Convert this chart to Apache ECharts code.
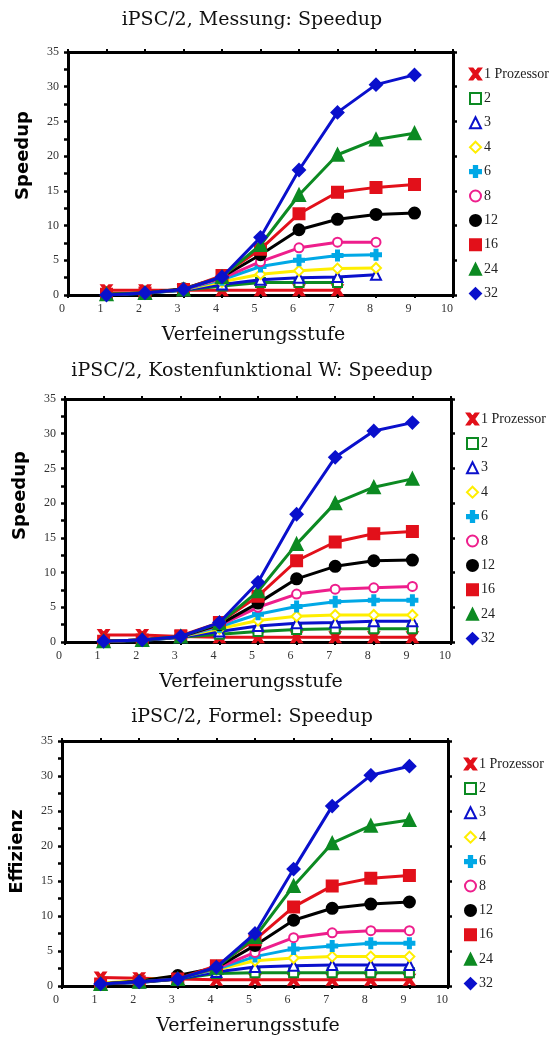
<!DOCTYPE html>
<html>
<head>
<meta charset="utf-8">
<script src="https://cdn.jsdelivr.net/npm/echarts@6/dist/echarts.min.js"></script>
<style>
  html, body { margin: 0; padding: 0; background: #fff; }
  #chart { width: 555px; height: 1041px; }
</style>
</head>
<body>
<div id="chart"></div>
<script>
// x positions (Verfeinerungsstufe)
const xs = [1, 2, 3, 4, 5, 6, 7, 8, 9];
const names = ["1 Prozessor", "2", "3", "4", "6", "8", "12", "16", "24", "32"];

// iPSC/2, Messung
const messung = [
  [0.7, 0.7, 0.7, 0.7, 0.7, 0.7, 0.7],
  [0.1, 0.3, 0.7, 1.3, 1.8, 1.8, 1.8],
  [0.0, 0.3, 0.7, 1.5, 2.2, 2.5, 2.6, 2.9],
  [0.1, 0.3, 0.8, 1.9, 3.0, 3.5, 3.8, 3.9],
  [0.1, 0.2, 0.8, 2.2, 4.1, 5.0, 5.7, 5.8],
  [0.1, 0.3, 0.8, 2.4, 4.8, 6.8, 7.6, 7.6],
  [0.1, 0.3, 0.9, 2.6, 5.8, 9.4, 10.9, 11.6, 11.8],
  [0.1, 0.3, 0.8, 2.8, 6.6, 11.7, 14.8, 15.5, 15.9],
  [0.1, 0.3, 0.8, 2.6, 7.2, 14.4, 20.2, 22.4, 23.3],
  [0.0, 0.3, 0.8, 2.6, 8.3, 18.0, 26.3, 30.3, 31.7],
];

// iPSC/2, Kostenfunktional W
const kostenW = [
  [1.0, 1.0, 0.8, 0.7, 0.7, 0.7, 0.7, 0.7, 0.7],
  [0.1, 0.2, 0.7, 1.1, 1.5, 1.8, 1.9, 1.9, 1.9],
  [0.1, 0.2, 0.7, 1.5, 2.3, 2.7, 2.8, 3.0, 3.0],
  [0.1, 0.3, 0.8, 1.9, 3.1, 3.7, 3.9, 3.9, 3.9],
  [0.1, 0.3, 0.8, 2.2, 4.0, 5.1, 5.8, 6.0, 6.0],
  [0.1, 0.3, 0.8, 2.4, 5.0, 6.9, 7.6, 7.8, 8.0],
  [0.1, 0.3, 0.8, 2.5, 5.6, 9.1, 10.9, 11.7, 11.8],
  [0.1, 0.3, 0.9, 2.8, 6.6, 11.7, 14.4, 15.6, 15.9],
  [0.1, 0.3, 0.8, 2.7, 7.3, 14.1, 20.0, 22.3, 23.5],
  [0.1, 0.3, 0.8, 2.8, 8.6, 18.4, 26.6, 30.4, 31.6],
];

// iPSC/2, Formel
const formel = [
  [1.2, 1.1, 1.0, 0.9, 0.9, 0.9, 0.9, 0.9, 0.9],
  [0.3, 0.5, 1.0, 1.8, 1.9, 1.9, 1.9, 1.9, 1.9],
  [0.3, 0.5, 1.0, 2.0, 2.7, 2.9, 3.0, 3.0, 3.0],
  [0.4, 0.8, 1.4, 2.3, 3.6, 4.0, 4.2, 4.2, 4.2],
  [0.3, 0.6, 1.1, 2.4, 4.2, 5.3, 5.7, 6.1, 6.1],
  [0.3, 0.6, 1.1, 2.5, 4.8, 6.9, 7.6, 7.9, 7.9],
  [0.3, 0.7, 1.5, 2.6, 5.8, 9.4, 11.1, 11.7, 12.0],
  [0.3, 0.6, 1.0, 2.9, 6.6, 11.3, 14.3, 15.4, 15.8],
  [0.3, 0.6, 1.0, 2.6, 7.0, 14.3, 20.4, 22.9, 23.7],
  [0.3, 0.6, 1.0, 2.7, 7.5, 16.7, 25.7, 30.1, 31.4],
];

const titles = ["iPSC/2, Messung: Speedup", "iPSC/2, Kostenfunktional W: Speedup", "iPSC/2, Formel: Speedup"];
const yNames = ["Speedup", "Speedup", "Effizienz"];
const xName = "Verfeinerungsstufe";

const X_PATH = "path://M0,0 L2.5,0 L5,3 L7.5,0 L10,0 L6.5,5 L10,10 L7.5,10 L5,7 L2.5,10 L0,10 L3.5,5 Z";
const PLUS_PATH = "path://M3.5,0 H6.5 V3.5 H10 V6.5 H6.5 V10 H3.5 V6.5 H0 V3.5 H3.5 Z";

const RED = "#e2101a";
const GREEN = "#0c8a22";
const BLUE = "#0a10cc";
const styles = [
  { color: RED, symbol: X_PATH, size: 10 },
  { color: GREEN, symbol: "emptyRect", size: 9 },
  { color: BLUE, symbol: "emptyTriangle", size: 10 },
  { color: "#ffee00", symbol: "emptyDiamond", size: 10 },
  { color: "#00a8e6", symbol: PLUS_PATH, size: 10 },
  { color: "#ee1e8c", symbol: "emptyCircle", size: 9 },
  { color: "#000000", symbol: "circle", size: 11 },
  { color: RED, symbol: "rect", size: 11 },
  { color: GREEN, symbol: "triangle", size: 12 },
  { color: BLUE, symbol: "diamond", size: 12 },
];

const panels = [messung, kostenW, formel];
const grids = [
  { left: 68, top: 52, width: 385, height: 243 },
  { left: 65, top: 399, width: 386, height: 243 },
  { left: 62, top: 741, width: 386, height: 245 },
];
const titleTops = [11, 362, 708];
const yNamePad = [36, 50, 24];
const legendPos = [
  { left: 469, top: 67 },
  { left: 466, top: 412 },
  { left: 464, top: 757 },
];

const serif = "DejaVu Serif";
const tickFont = { fontFamily: "Liberation Serif", fontSize: 12, color: "#333" };
const axisLineStyle = { color: "#000", width: 3 };

const option = {
  backgroundColor: "#fff",
  animation: false,
  title: titles.map((t, i) => ({
    text: t,
    left: 252,
    top: titleTops[i],
    textAlign: "center",
    padding: 0,
    textStyle: { fontFamily: serif, fontSize: 19, fontWeight: "normal", color: "#111" },
  })),
  legend: legendPos.map((p) => ({
    orient: "vertical",
    left: p.left,
    top: p.top,
    itemWidth: 11,
    itemHeight: 11,
    itemGap: 10.4,
    padding: 0,
    selectedMode: false,
    textStyle: { fontFamily: "Liberation Serif", fontSize: 14, color: "#222", padding: [0, 0, 0, -2] },
    data: names.map((n, k) => ({ name: n, icon: styles[k].symbol })),
  })),
  grid: grids,
  xAxis: [],
  yAxis: [],
  series: [],
};

grids.forEach((g, i) => {
  // bottom axis with labels
  option.xAxis.push({
    type: "value",
    gridIndex: i,
    min: 0,
    max: 10,
    interval: 1,
    name: xName,
    nameLocation: "middle",
    nameGap: 31,
    nameTextStyle: { fontFamily: serif, fontSize: 19, color: "#111", padding: [0, 14, 0, 0] },
    axisLine: { onZero: false, lineStyle: axisLineStyle },
    axisTick: { show: true, length: 3, lineStyle: { width: 2, color: "#000" } },
    axisLabel: { ...tickFont, margin: 8, padding: [0, 12, 0, 0] },
    splitLine: { show: false },
  });
  // top frame
  option.xAxis.push({
    type: "value",
    gridIndex: i,
    position: "top",
    min: 0,
    max: 10,
    interval: 1,
    axisLine: { onZero: false, lineStyle: axisLineStyle },
    axisTick: { show: true, length: 3, lineStyle: { width: 2, color: "#000" } },
    axisLabel: { show: false },
    splitLine: { show: false },
  });
  // left axis with labels
  option.yAxis.push({
    type: "value",
    gridIndex: i,
    min: 0,
    max: 35,
    interval: 5,
    name: yNames[i],
    nameLocation: "middle",
    nameRotate: 90,
    nameGap: 36,
    nameTextStyle: {
      fontFamily: "DejaVu Sans",
      fontWeight: "bold",
      fontSize: 18,
      color: "#000",
      padding: [0, 0, 0, yNamePad[i]],
    },
    axisLine: { show: true, onZero: false, lineStyle: axisLineStyle },
    axisTick: { show: true, length: 4, lineStyle: { width: 2.5, color: "#000" } },
    minorTick: { show: true, splitNumber: 2, length: 4, lineStyle: { width: 2.5, color: "#000" } },
    axisLabel: { ...tickFont, margin: 9 },
    splitLine: { show: false },
  });
  // right frame
  option.yAxis.push({
    type: "value",
    gridIndex: i,
    position: "right",
    min: 0,
    max: 35,
    interval: 5,
    axisLine: { show: true, onZero: false, lineStyle: axisLineStyle },
    axisTick: { show: true, length: 4, lineStyle: { width: 2.5, color: "#000" } },
    axisLabel: { show: false },
    splitLine: { show: false },
  });

  panels[i].forEach((vals, k) => {
    const st = styles[k];
    option.series.push({
      name: names[k],
      type: "line",
      xAxisIndex: i * 2,
      yAxisIndex: i * 2,
      data: vals.map((v, j) => [xs[j], v]),
      symbol: st.symbol,
      symbolSize: st.size,
      showSymbol: true,
      color: st.color,
      lineStyle: { color: st.color, width: 3 },
      itemStyle: { color: st.color, borderColor: st.color, borderWidth: 2 },
      z: 2 + k,
    });
  });
});

const chart = echarts.init(document.getElementById("chart"));
chart.setOption(option);
</script>
</body>
</html>
